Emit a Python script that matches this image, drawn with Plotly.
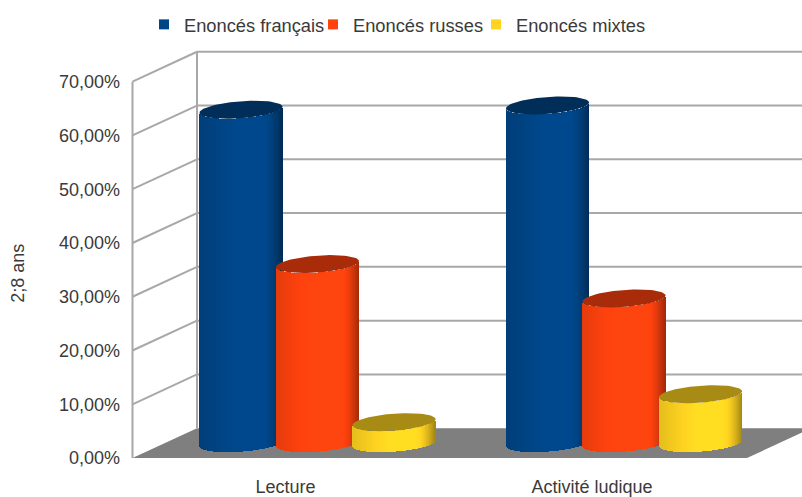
import numpy as np
import plotly.graph_objects as go

categories = ["Lecture", "Activité ludique"]
category_x = [285.5, 592.0]
series_names = ["Enoncés français", "Enoncés russes", "Enoncés mixtes"]
francais = [62.0, 62.8]
russes = [33.3, 26.9]
mixtes = [3.9, 9.1]
series_colors = ["#004586", "#ff420e", "#ffd320"]
y_ticks = [0, 10, 20, 30, 40, 50, 60, 70]
y_ticktext = ["0,00%", "10,00%", "20,00%", "30,00%", "40,00%", "50,00%", "60,00%", "70,00%"]

W, H, BOTTOM = 802, 497, 476
Y0 = 460.0
PX = 5.4          # pixels per percentage point
FRONT_X, BACK_X, RIGHT_X = 132.5, 197.0, 747.0
DEPTH_X = BACK_X - FRONT_X
DEPTH_V = 30 / PX
GRID = "#a8a8a8"
FLOOR = "#7f7f7f"
A, B, TILT = 41.5, 8.5, 3.0
BASE_V = 15 / PX
OFFSET, STEP = 32.0, 76.5
LEGEND_TEXT_X = [184, 353, 516]


def rgb(hexc, f):
    c = [int(hexc[i:i + 2], 16) for i in (1, 3, 5)]
    c = [min(255, round(v * f)) for v in c]
    return f"rgb({c[0]},{c[1]},{c[2]})"


def shade(t):
    # t from -1 (left) to 1 (right)
    if t < -0.1:
        return 0.9 + 0.15 * (t + 1) / 0.9
    if t < 0.5:
        return 1.05
    return 1.05 - 0.42 * ((t - 0.5) / 0.5) ** 1.8


fig = go.Figure()
values = [francais, russes, mixtes]
top_traces = []
for j, (name, vals, col) in enumerate(zip(series_names, values, series_colors)):
    xs, ys, bases, colors = [], [], [], []
    for cx, v in zip(category_x, vals):
        c = cx + OFFSET + (j - 1) * STEP
        for xp in np.arange(c - A + 0.5, c + A, 1.0):
            t = (xp - c) / A
            curve = (B * np.sqrt(1 - t * t) - TILT * t) / PX
            xs.append(float(xp))
            ys.append(float(v))
            bases.append(float(BASE_V - curve))
            colors.append(rgb(col, shade(t)))
        th = np.linspace(0, 2 * np.pi, 80)
        top_traces.append(go.Scatter(
            x=c + A * np.cos(th),
            y=BASE_V + v - (B * np.sin(th) - TILT * np.cos(th)) / PX,
            mode="lines", fill="toself", fillcolor=rgb(col, 0.66),
            line=dict(width=0), showlegend=False, hoverinfo="skip"))
    fig.add_trace(go.Bar(x=xs, y=ys, base=bases, width=1.0, marker=dict(color=colors, line=dict(width=0)),
                         showlegend=False, hovertemplate=name + ": %{y}%<extra></extra>"))
for tr in top_traces:
    fig.add_trace(tr)
legend_ids = ["legend", "legend2", "legend3"]
for name, col, lid in zip(series_names, series_colors, legend_ids):
    fig.add_trace(go.Scatter(x=[None], y=[None], name=name, mode="markers", legend=lid,
                             marker=dict(symbol="square", size=10, color=col)))

shapes = [dict(type="path", layer="below", xref="x", yref="y", line=dict(width=0), fillcolor=FLOOR,
               path=f"M{FRONT_X},0 L{BACK_X},{DEPTH_V} L{RIGHT_X + DEPTH_X},{DEPTH_V} L{RIGHT_X},0 Z")]
gl = dict(type="line", layer="below", xref="x", yref="y", line=dict(color=GRID, width=2))
shapes.append(dict(gl, x0=FRONT_X, x1=FRONT_X, y0=0, y1=70))
shapes.append(dict(gl, x0=BACK_X, x1=BACK_X, y0=DEPTH_V, y1=70 + DEPTH_V))
for v in y_ticks[1:]:
    shapes.append(dict(gl, x0=FRONT_X, x1=BACK_X, y0=v, y1=v + DEPTH_V))
    shapes.append(dict(gl, x0=BACK_X, x1=W, y0=v + DEPTH_V, y1=v + DEPTH_V))

FONT = dict(family="Liberation Sans", size=18, color="#3a3a3a")
LFONT = dict(FONT, size=18.3)
legends = {
    lid: dict(orientation="h", x=(tx - 40) / W, y=1 - 6 / BOTTOM, xanchor="left", yanchor="top",
              bgcolor="rgba(0,0,0,0)", font=LFONT, itemclick=False, itemdoubleclick=False)
    for lid, tx in zip(legend_ids, LEGEND_TEXT_X)
}
fig.update_layout(
    width=W, height=H, margin=dict(l=0, r=0, t=0, b=H - BOTTOM),
    paper_bgcolor="white", plot_bgcolor="white", font=FONT,
    barmode="overlay", bargap=0, shapes=shapes,
    showlegend=True,
    xaxis=dict(range=[0, W], showgrid=False, zeroline=False, showline=False,
               tickmode="array", tickvals=category_x, ticktext=categories, ticks="", ticklen=0,
               tickfont=FONT),
    yaxis=dict(range=[(Y0 - BOTTOM) / PX, Y0 / PX], showgrid=False, zeroline=False, showline=False,
               anchor="free", position=120 / W,
               tickmode="array", tickvals=y_ticks, ticktext=y_ticktext, ticks="", tickfont=FONT),
    annotations=[dict(text="2;8 ans", textangle=-90, xref="paper", yref="paper", showarrow=False,
                      x=18 / W, y=(BOTTOM - 275) / BOTTOM, xanchor="center", yanchor="middle", font=FONT)],
    **legends,
)
fig.write_html("out.html", config={"displayModeBar": False},
               post_script="document.body.style.margin='0';")
